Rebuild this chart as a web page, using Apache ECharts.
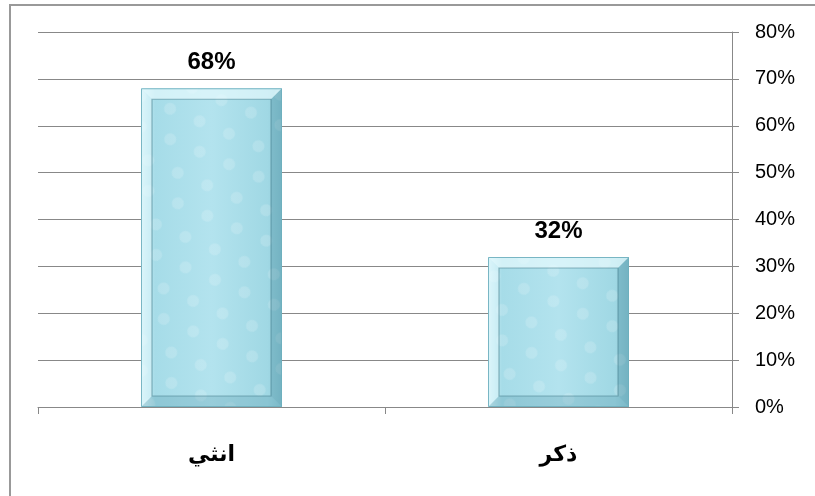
<!DOCTYPE html>
<html>
<head>
<meta charset="utf-8">
<script src="https://cdn.jsdelivr.net/npm/echarts@6/dist/echarts.min.js"></script>
<style>
html,body{margin:0;padding:0;background:#fff;}
#c{width:815px;height:496px;}
</style>
</head>
<body>
<div id="c"></div>
<script>
const categories = ['انثي', 'ذكر'];
const values = [68, 32];
const yTicks = [0, 10, 20, 30, 40, 50, 60, 70, 80];

const chart = echarts.init(document.getElementById('c'), null, {renderer: 'canvas'});

const BAR_W = 141;
const BEVEL = 11;

const barFill = new echarts.graphic.LinearGradient(0, 0, 1, 0, [
  {offset: 0, color: '#d2f1f7'},
  {offset: 0.1, color: '#a6dce8'},
  {offset: 0.5, color: '#b3e3ee'},
  {offset: 0.9, color: '#a0d8e4'},
  {offset: 1, color: '#8cc8d5'}
]);

function bevelItem(params, api) {
  const idx = api.value(0);
  const top = api.coord([idx, api.value(1)]);
  const base = api.coord([idx, 0]);
  const x0 = top[0] - BAR_W / 2, x1 = top[0] + BAR_W / 2;
  const y0 = top[1], y1 = base[1];
  const b = BEVEL;
  return {
    type: 'group',
    children: [
      {type: 'polygon', shape: {points: [[x0, y0], [x1, y0], [x1 - b, y0 + b], [x0 + b, y0 + b]]},
        style: {fill: 'rgba(235,252,255,0.65)'}},
      {type: 'polygon', shape: {points: [[x0, y0], [x0 + b, y0 + b], [x0 + b, y1 - b], [x0, y1]]},
        style: {fill: 'rgba(230,250,255,0.45)'}},
      {type: 'polygon', shape: {points: [[x1, y0], [x1, y1], [x1 - b, y1 - b], [x1 - b, y0 + b]]},
        style: {fill: 'rgba(60,130,150,0.30)'}},
      {type: 'polygon', shape: {points: [[x0, y1], [x0 + b, y1 - b], [x1 - b, y1 - b], [x1, y1]]},
        style: {fill: 'rgba(70,140,160,0.25)'}},
      {type: 'rect', shape: {x: x0 + b, y: y0 + b, width: BAR_W - 2 * b, height: y1 - y0 - 2 * b},
        style: {fill: 'none', stroke: 'rgba(70,125,140,0.55)', lineWidth: 1.2}},
      {type: 'rect', shape: {x: x0 + 0.5, y: y0 + 0.5, width: BAR_W - 1, height: y1 - y0 - 1},
        style: {fill: 'none', stroke: 'rgba(110,175,190,0.9)', lineWidth: 1}}
    ]
  };
}

chart.setOption({
  animation: false,
  graphic: [{
    type: 'rect',
    shape: {x: 10, y: 5, width: 900, height: 600},
    style: {fill: 'none', stroke: '#999', lineWidth: 2},
    silent: true
  }],
  grid: {left: 38, right: 83, top: 32, bottom: 89},
  xAxis: {
    type: 'category',
    data: categories,
    axisLine: {lineStyle: {color: '#888', width: 1}},
    axisTick: {show: true, length: 7, lineStyle: {color: '#888'}},
    axisLabel: {
      margin: 37,
      fontSize: 22,
      fontWeight: 'bold',
      color: '#000',
      fontFamily: 'DejaVu Sans, sans-serif'
    }
  },
  yAxis: {
    type: 'value',
    position: 'right',
    min: 0,
    max: 80,
    interval: 10,
    axisLine: {show: true, lineStyle: {color: '#888', width: 1}},
    axisTick: {show: true, length: 7, inside: false, lineStyle: {color: '#888'}},
    splitLine: {show: true, lineStyle: {color: '#888', width: 1}},
    axisLabel: {
      margin: 23,
      fontSize: 20,
      color: '#000',
      fontFamily: 'Liberation Sans, Arial, sans-serif',
      formatter: function (v) { return yTicks.indexOf(v) >= 0 ? v + '%' : ''; }
    }
  },
  series: [{
    type: 'bar',
    data: values,
    barWidth: BAR_W,
    itemStyle: {
      color: barFill,
      borderWidth: 0,
      decal: {
        symbol: 'circle',
        symbolSize: 1,
        color: 'rgba(255,255,255,0.16)',
        dashArrayX: [[14, 18], [0, 12, 14, 6]],
        dashArrayY: [12, 16],
        rotation: 0.4
      }
    },
    label: {
      show: true,
      position: 'top',
      distance: 14,
      formatter: '{c}%',
      fontSize: 24,
      fontWeight: 'bold',
      color: '#000',
      fontFamily: 'Liberation Sans, Arial, sans-serif'
    }
  }, {
    type: 'custom',
    renderItem: bevelItem,
    data: values.map(function (v, i) { return [i, v]; }),
    encode: {x: 0, y: 1},
    silent: true,
    z: 3
  }]
});
</script>
</body>
</html>
